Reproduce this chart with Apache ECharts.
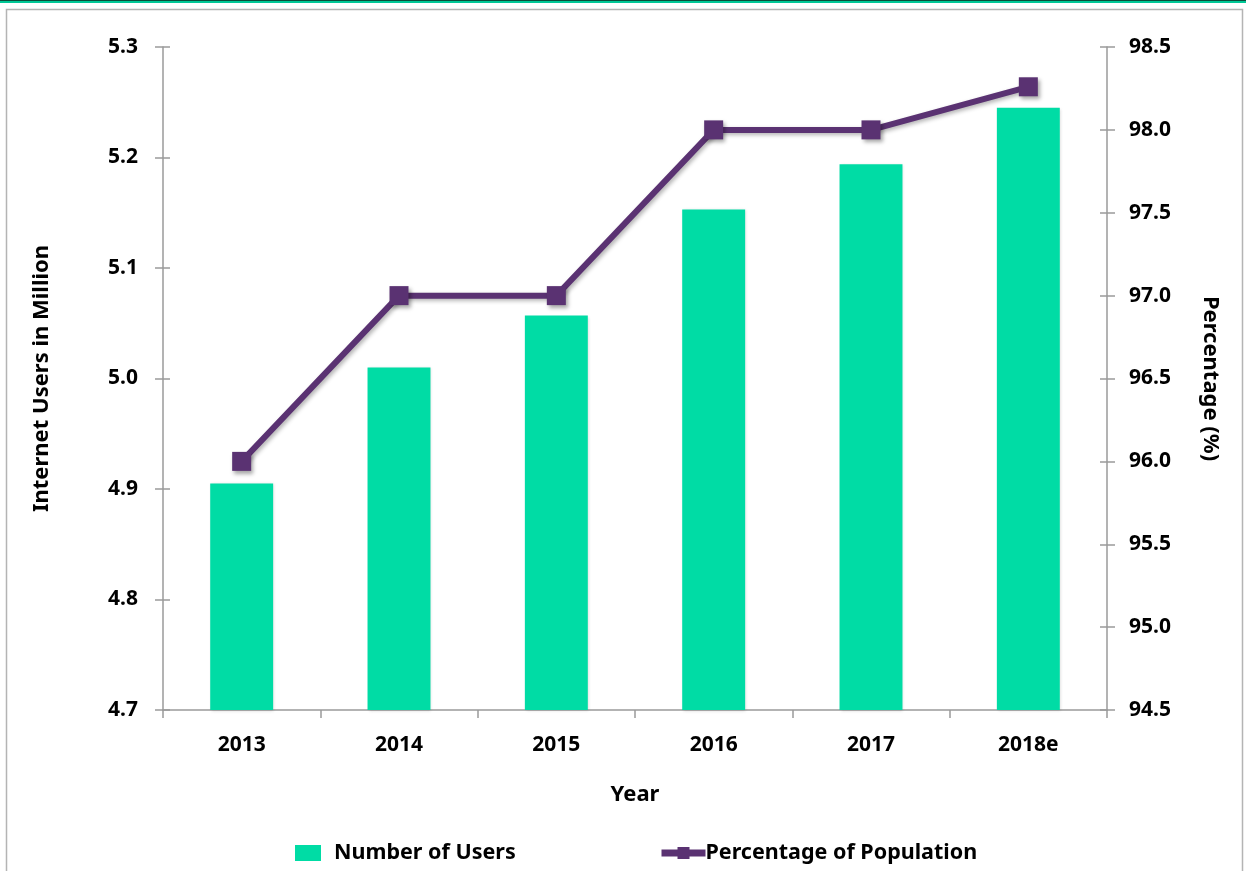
<!DOCTYPE html>
<html>
<head>
<meta charset="utf-8">
<script src="https://cdn.jsdelivr.net/npm/echarts@6/dist/echarts.min.js"></script>
<style>
  html, body { margin: 0; padding: 0; background: #fff; }
  #chart { width: 1246px; height: 871px; }
</style>
</head>
<body>
<div id="chart"></div>
<script>
// Internet users and share of population by year
const years = ['2013', '2014', '2015', '2016', '2017', '2018e'];
const usersMillion = [4.905, 5.010, 5.057, 5.153, 5.194, 5.245];
const populationPct = [96.0, 97.0, 97.0, 98.0, 98.0, 98.26];

const FONT = 'Noto Sans';
const GREEN = '#00dca5';
const PURPLE = '#5a3272';
const AXIS = '#9a9a9a';

const chart = echarts.init(document.getElementById('chart'));

const labelStyle = { fontFamily: FONT, fontWeight: 'bold', fontSize: 21, color: '#000' };
const nameStyle = { fontFamily: FONT, fontWeight: 'bold', fontSize: 22, color: '#000' };

chart.setOption({
  animation: false,
  graphic: [
    { type: 'rect', shape: { x: 0, y: 0, width: 1246, height: 1 }, style: { fill: '#0b4d3a' } },
    { type: 'rect', shape: { x: 0, y: 1, width: 1246, height: 2 }, style: { fill: '#00c896' } },
    { type: 'rect', shape: { x: 6.5, y: 9.5, width: 1236, height: 880 }, style: { fill: 'none', stroke: '#b4b4b4', lineWidth: 1.5 } }
  ],
  grid: { left: 163, right: 139, top: 47, bottom: 161 },
  legend: [
    {
      data: [{ name: 'Number of Users', icon: 'rect' }],
      left: 290, top: 837, itemWidth: 26, itemHeight: 16, itemGap: 0,
      textStyle: { fontFamily: FONT, fontWeight: 'bold', fontSize: 21.5, color: '#000', padding: [0, 0, 0, 8] }
    },
    {
      data: [{ name: 'Percentage of Population', lineStyle: { width: 7 } }],
      left: 653, top: 837, itemWidth: 44, itemHeight: 15,
      textStyle: { fontFamily: FONT, fontWeight: 'bold', fontSize: 21.5, color: '#000', padding: [0, 0, 0, -5] }
    }
  ],
  xAxis: {
    type: 'category',
    data: years,
    name: 'Year',
    nameLocation: 'middle',
    nameGap: 74,
    nameTextStyle: nameStyle,
    axisLine: { lineStyle: { color: AXIS, width: 1.5 } },
    axisTick: { show: true, alignWithLabel: false, length: 8, lineStyle: { color: AXIS, width: 1.5 } },
    axisLabel: Object.assign({ margin: 25 }, labelStyle)
  },
  yAxis: [
    {
      type: 'value', min: 4.7, max: 5.3, interval: 0.1, position: 'left',
      name: 'Internet Users in Million', nameLocation: 'middle', nameGap: 110, nameRotate: 90,
      nameTextStyle: nameStyle,
      axisLine: { show: true, lineStyle: { color: AXIS, width: 1.5 } },
      axisTick: { show: true, length: 8, lineStyle: { color: AXIS, width: 1.5 } },
      axisLabel: Object.assign({ margin: 25, formatter: v => v.toFixed(1) }, labelStyle),
      splitLine: { show: false }
    },
    {
      type: 'value', min: 94.5, max: 98.5, interval: 0.5, position: 'right',
      name: 'Percentage (%)', nameLocation: 'middle', nameGap: 92, nameRotate: -90,
      nameTextStyle: nameStyle,
      axisLine: { show: true, lineStyle: { color: AXIS, width: 1.5 } },
      axisTick: { show: true, length: 8, lineStyle: { color: AXIS, width: 1.5 } },
      axisLabel: Object.assign({ margin: 22, formatter: v => v.toFixed(1) }, labelStyle),
      splitLine: { show: false }
    },
    {
      // inner half of the crossing ticks on the left axis
      type: 'value', min: 4.7, max: 5.3, interval: 0.1, position: 'left',
      axisLine: { show: false },
      axisTick: { show: true, inside: true, length: 7, lineStyle: { color: AXIS, width: 1.5 } },
      axisLabel: { show: false }, splitLine: { show: false }
    },
    {
      // inner half of the crossing ticks on the right axis
      type: 'value', min: 94.5, max: 98.5, interval: 0.5, position: 'right',
      axisLine: { show: false },
      axisTick: { show: true, inside: true, length: 7, lineStyle: { color: AXIS, width: 1.5 } },
      axisLabel: { show: false }, splitLine: { show: false }
    }
  ],
  series: [
    {
      name: 'Number of Users',
      type: 'bar',
      data: usersMillion,
      yAxisIndex: 0,
      barWidth: '40%',
      itemStyle: {
        color: GREEN,
        shadowBlur: 3, shadowOffsetX: 1, shadowOffsetY: 1, shadowColor: 'rgba(0,0,0,0.15)'
      }
    },
    {
      name: 'Percentage of Population',
      type: 'line',
      data: populationPct,
      yAxisIndex: 1,
      symbol: 'rect',
      symbolSize: 19,
      lineStyle: { color: PURPLE, width: 6, shadowBlur: 4, shadowOffsetX: 2, shadowOffsetY: 2, shadowColor: 'rgba(0,0,0,0.3)' },
      itemStyle: { color: PURPLE, borderWidth: 0, shadowBlur: 4, shadowOffsetX: 2, shadowOffsetY: 3, shadowColor: 'rgba(0,0,0,0.35)' },
      z: 5
    }
  ]
});
</script>
</body>
</html>
